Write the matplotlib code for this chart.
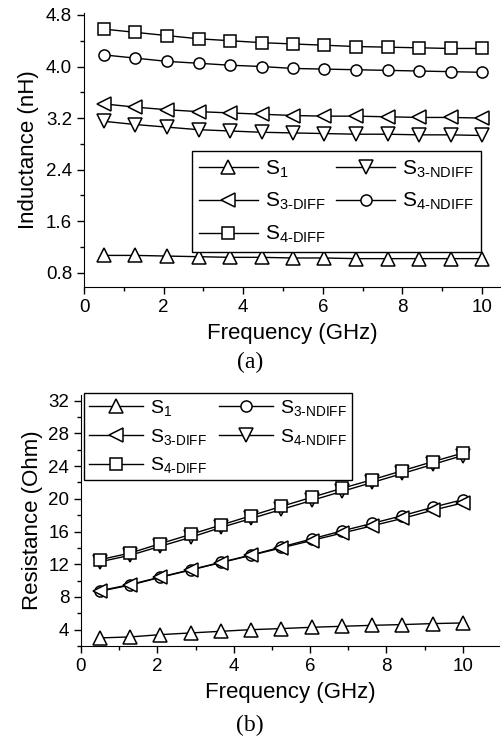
import matplotlib
matplotlib.use("Agg")
import matplotlib.pyplot as plt
from matplotlib.ticker import MultipleLocator

plt.rcParams['font.family'] = ['Liberation Sans', 'DejaVu Sans']
plt.rcParams['mathtext.fontset'] = 'custom'
plt.rcParams['mathtext.rm'] = 'Liberation Sans'
plt.rcParams['mathtext.it'] = 'Liberation Sans'

freq = [0.5, 1.29, 2.08, 2.88, 3.67, 4.46, 5.25, 6.04, 6.83, 7.63, 8.42, 9.21, 10.0]

# (a) inductance, nH
L_s1 = [1.07, 1.07, 1.06, 1.05, 1.04, 1.04, 1.03, 1.03, 1.02, 1.02, 1.02, 1.02, 1.02]
L_s3_ndiff = [3.15, 3.10, 3.06, 3.02, 3.00, 2.98, 2.97, 2.96, 2.95, 2.95, 2.94, 2.94, 2.93]
L_s3_diff = [3.42, 3.37, 3.33, 3.30, 3.28, 3.26, 3.24, 3.23, 3.23, 3.22, 3.21, 3.21, 3.20]
L_s4_ndiff = [4.18, 4.13, 4.08, 4.05, 4.02, 4.00, 3.97, 3.96, 3.95, 3.94, 3.93, 3.92, 3.91]
L_s4_diff = [4.58, 4.53, 4.48, 4.43, 4.40, 4.37, 4.35, 4.33, 4.31, 4.30, 4.29, 4.28, 4.28]

# (b) resistance, Ohm
R_s1 = [2.99, 3.11, 3.39, 3.60, 3.80, 4.00, 4.13, 4.29, 4.41, 4.53, 4.62, 4.74, 4.82]
R_s3_ndiff = [8.77, 9.51, 10.44, 11.34, 12.24, 13.13, 14.11, 15.09, 16.07, 17.00, 17.94, 18.96, 19.90]
R_s3_diff = [8.70, 9.45, 10.40, 11.30, 12.20, 13.10, 14.00, 14.90, 15.80, 16.70, 17.60, 18.60, 19.50]
R_s4_ndiff = [12.30, 13.10, 14.20, 15.30, 16.50, 17.60, 18.70, 19.80, 20.90, 22.00, 23.10, 24.20, 25.30]
R_s4_diff = [12.56, 13.37, 14.52, 15.66, 16.80, 17.94, 19.08, 20.18, 21.28, 22.34, 23.44, 24.54, 25.60]

lab_s1 = r'S$_{\mathrm{1}}$'
lab_s3n = r'S$_{\mathrm{3\text{-}NDIFF}}$'
lab_s3d = r'S$_{\mathrm{3\text{-}DIFF}}$'
lab_s4n = r'S$_{\mathrm{4\text{-}NDIFF}}$'
lab_s4d = r'S$_{\mathrm{4\text{-}DIFF}}$'

fig = plt.figure(figsize=(5.01, 7.40), dpi=100)
W, H = 501.0, 740.0
ax1 = fig.add_axes([84 / W, 1 - 287 / H, 416 / W, 274 / H])
ax2 = fig.add_axes([81 / W, 1 - 646 / H, 418 / W, 251 / H])

sty = dict(color='black', lw=1.0, mfc='white', mec='black', mew=1.1)


def line(ax, y, m, ms, lab):
    return ax.plot(freq, y, marker=m, ms=ms, label=lab, **sty)[0]


# top panel
a1 = line(ax1, L_s1, '^', 10, lab_s1)
a2 = line(ax1, L_s3_ndiff, 'v', 10, lab_s3n)
a3 = line(ax1, L_s3_diff, '<', 10, lab_s3d)
a4 = line(ax1, L_s4_ndiff, 'o', 8, lab_s4n)
a5 = line(ax1, L_s4_diff, 's', 8, lab_s4d)

# bottom panel
b1 = line(ax2, R_s1, '^', 10, lab_s1)
b2 = line(ax2, R_s3_ndiff, 'o', 8, lab_s3n)
b3 = line(ax2, R_s3_diff, '<', 10, lab_s3d)
b4 = line(ax2, R_s4_ndiff, 'v', 10, lab_s4n)
b5 = line(ax2, R_s4_diff, 's', 8, lab_s4d)

ax1.set_xlim(0, 10.45)
ax1.set_ylim(0.58, 4.83)
ax1.yaxis.set_major_locator(MultipleLocator(0.8))
ax1.yaxis.set_minor_locator(MultipleLocator(0.4))
ax1.yaxis.set_major_formatter(matplotlib.ticker.FormatStrFormatter('%.1f'))
ax1.set_ylabel('Inductance (nH)', fontsize=16, labelpad=5)

ax2.set_xlim(0, 10.95)
ax2.set_ylim(2.0, 32.7)
ax2.yaxis.set_major_locator(MultipleLocator(4))
ax2.yaxis.set_minor_locator(MultipleLocator(2))
ax2.set_ylabel('Resistance (Ohm)', fontsize=16, labelpad=4)

for ax in (ax1, ax2):
    ax.spines['top'].set_visible(False)
    ax.spines['right'].set_visible(False)
    ax.xaxis.set_major_locator(MultipleLocator(2))
    ax.xaxis.set_minor_locator(MultipleLocator(1))
    ax.tick_params(which='major', direction='out', length=5, width=1, labelsize=13.5)
    ax.tick_params(which='minor', direction='out', length=3, width=1)
    ax.set_xlabel('Frequency (GHz)', fontsize=16, labelpad=5)

leg1 = ax1.legend([a1, a3, a5, a2, a4], [lab_s1, lab_s3d, lab_s4d, lab_s3n, lab_s4n],
                  ncol=2, loc='upper left', bbox_to_anchor=(192 / W, 1 - 151 / H),
                  bbox_transform=fig.transFigure, borderaxespad=0, fontsize=15,
                  handlelength=2.8, handletextpad=0.35, columnspacing=0.5,
                  labelspacing=0.55, borderpad=0.35, fancybox=False, framealpha=1)
leg1.get_frame().set_edgecolor('black')
leg1.get_frame().set_linewidth(1.0)

leg2 = ax2.legend([b1, b3, b5, b2, b4], [lab_s1, lab_s3d, lab_s4d, lab_s3n, lab_s4n],
                  ncol=2, loc='upper left', bbox_to_anchor=(84 / W, 1 - 393 / H),
                  bbox_transform=fig.transFigure, borderaxespad=0, fontsize=14,
                  handlelength=2.8, handletextpad=0.35, columnspacing=0.6,
                  labelspacing=0.45, borderpad=0.25, fancybox=False, framealpha=1)
leg2.get_frame().set_edgecolor('black')
leg2.get_frame().set_linewidth(1.0)

fig.text(250 / W, 1 - 362 / H, '(a)', family='Liberation Serif', fontsize=17,
         ha='center', va='center')
fig.text(250 / W, 1 - 725 / H, '(b)', family='Liberation Serif', fontsize=17,
         ha='center', va='center')

fig.savefig('out.png', dpi=100)
